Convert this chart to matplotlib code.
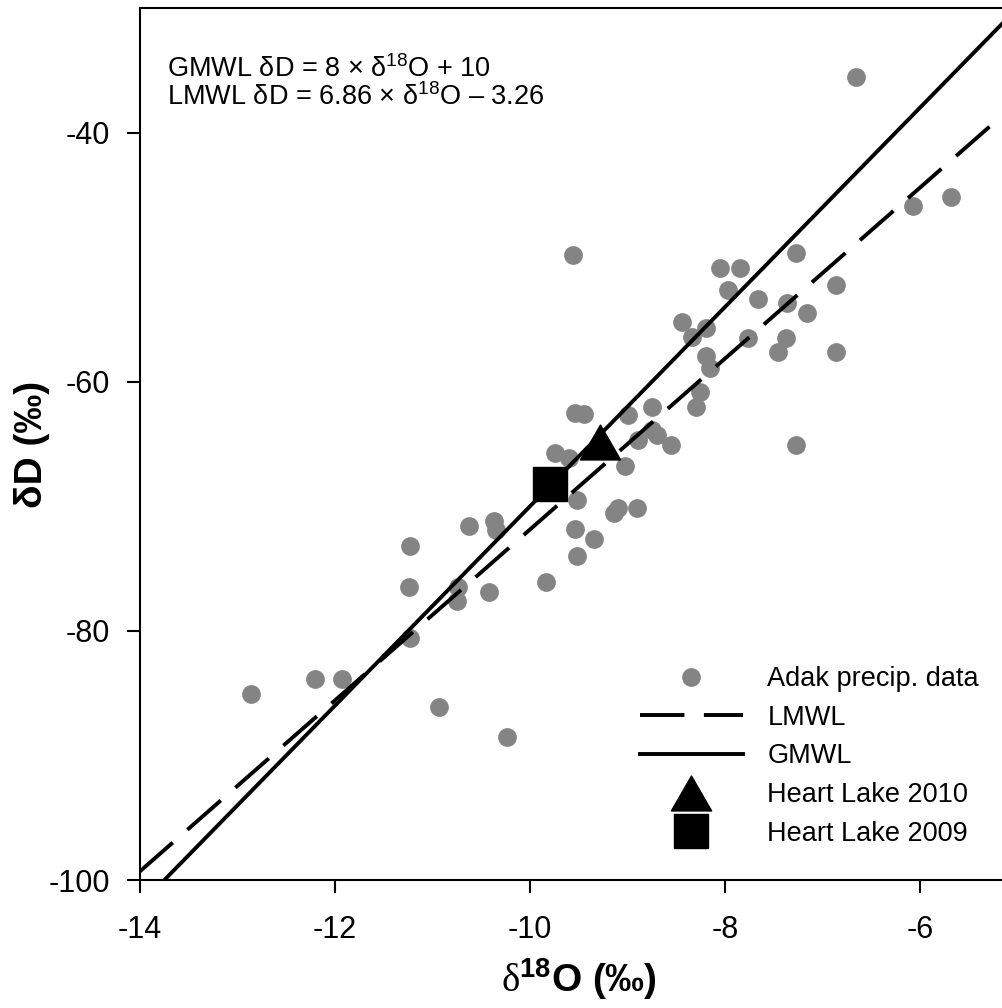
import numpy as np
import matplotlib
matplotlib.use("Agg")
import matplotlib.pyplot as plt
from matplotlib.path import Path

plt.rcParams['font.family'] = ['Liberation Sans', 'DejaVu Sans']
plt.rcParams['mathtext.fontset'] = 'custom'
plt.rcParams['mathtext.rm'] = 'Liberation Sans'
plt.rcParams['mathtext.bf'] = 'Liberation Sans:bold'
plt.rcParams['mathtext.sf'] = 'Liberation Serif'
plt.rcParams['lines.scale_dashes'] = False
plt.rcParams['axes.unicode_minus'] = False

# Adak precipitation samples (d18O, dD in permil)
d18o = [-6.66, -6.07, -5.68, -9.56, -8.05, -7.85, -7.27, -7.97, -7.66, -6.86,
        -7.36, -7.16, -8.44, -8.19, -8.34, -7.76, -7.37, -7.46, -6.86, -8.19,
        -8.15, -8.26, -8.30, -9.54, -9.45, -8.99, -8.75, -8.75, -8.70, -8.89,
        -8.55, -7.27, -9.74, -9.60, -9.03, -9.52, -9.10, -9.14, -8.90, -9.54,
        -9.34, -9.52, -9.84, -10.63, -10.37, -10.35, -11.23, -11.24, -10.74, -10.75,
        -10.42, -11.23, -12.21, -11.93, -12.86, -10.93, -10.24]
dd = [-35.5, -45.9, -45.2, -49.8, -50.9, -50.9, -49.7, -52.6, -53.4, -52.2,
      -53.7, -54.5, -55.2, -55.7, -56.4, -56.5, -56.5, -57.6, -57.6, -57.9,
      -58.9, -60.8, -62.0, -62.5, -62.6, -62.7, -62.0, -63.9, -64.3, -64.7,
      -65.1, -65.1, -65.7, -66.1, -66.8, -69.5, -70.1, -70.5, -70.1, -71.8,
      -72.6, -74.0, -76.1, -71.6, -71.2, -71.9, -73.2, -76.5, -76.5, -77.6,
      -76.9, -80.6, -83.9, -83.9, -85.1, -86.1, -88.5]

# Heart Lake samples
lake2010 = (-9.285, -64.8)
lake2009 = (-9.79, -68.2)

# meteoric water lines: slope, intercept
gmwl = (8.0, 10.0)
lmwl = (6.86, -3.26)

fig = plt.figure(figsize=(10.03, 10.08), dpi=100)
ax = fig.add_axes([140 / 1003, 128 / 1008, 877.5 / 1003, 872 / 1008])

ax.plot(d18o, dd, 'o', color='#848484', markersize=13.5, markeredgewidth=0,
        label='Adak precip. data', zorder=2)

xl = np.array([-14.5, -4.5])
ax.plot(xl, lmwl[0] * xl + lmwl[1], color='black', lw=2.8, dashes=(32, 14),
        dash_capstyle='butt', label='LMWL', zorder=3)
ax.plot(xl, gmwl[0] * xl + gmwl[1], color='black', lw=2.8, label='GMWL', zorder=3)

tri = Path([(-1, -0.866), (1, -0.866), (0, 0.866), (-1, -0.866)],
           [Path.MOVETO, Path.LINETO, Path.LINETO, Path.CLOSEPOLY])
ax.plot([lake2010[0]], [lake2010[1]], marker=tri, color='black', markersize=29,
        linestyle='none', label='Heart Lake 2010', zorder=4)
ax.plot([lake2009[0]], [lake2009[1]], 's', color='black', markersize=24.5,
        label='Heart Lake 2009', zorder=4)

ax.set_xlim(-14, -5)
ax.set_ylim(-100, -30)
ax.set_xticks([-14, -12, -10, -8, -6])
ax.set_yticks([-100, -80, -60, -40])
ax.tick_params(axis='both', labelsize=22, length=9.5, width=1.5, direction='out')
ax.tick_params(axis='x', pad=16)
ax.tick_params(axis='y', pad=12)
for s in ax.spines.values():
    s.set_linewidth(1.5)

ax.set_xlabel(r'$\mathsf{\delta}^{\mathbf{18}}$O (‰)', fontsize=28, fontweight='bold', labelpad=8)
ax.set_ylabel('δD (‰)', fontsize=28, fontweight='bold')
ax.yaxis.set_label_coords(-0.103, 0.5)

fig.text(167 / 1003, 1 - 77 / 1008, r'GMWL δD = 8 × δ$^{\mathrm{18}}$O + 10',
         fontsize=19.5, va='baseline')
fig.text(167 / 1003, 1 - 105 / 1008, r'LMWL δD = 6.86 × δ$^{\mathrm{18}}$O – 3.26',
         fontsize=19.5, va='baseline')

leg = ax.legend(loc='upper left', bbox_to_anchor=(640 / 1003, 1 - 666 / 1008),
                bbox_transform=fig.transFigure, frameon=False, fontsize=19.5,
                borderpad=0, borderaxespad=0, handlelength=3.8,
                handletextpad=0.9, labelspacing=0.47, numpoints=1)

fig.savefig('out.png', dpi=100)
